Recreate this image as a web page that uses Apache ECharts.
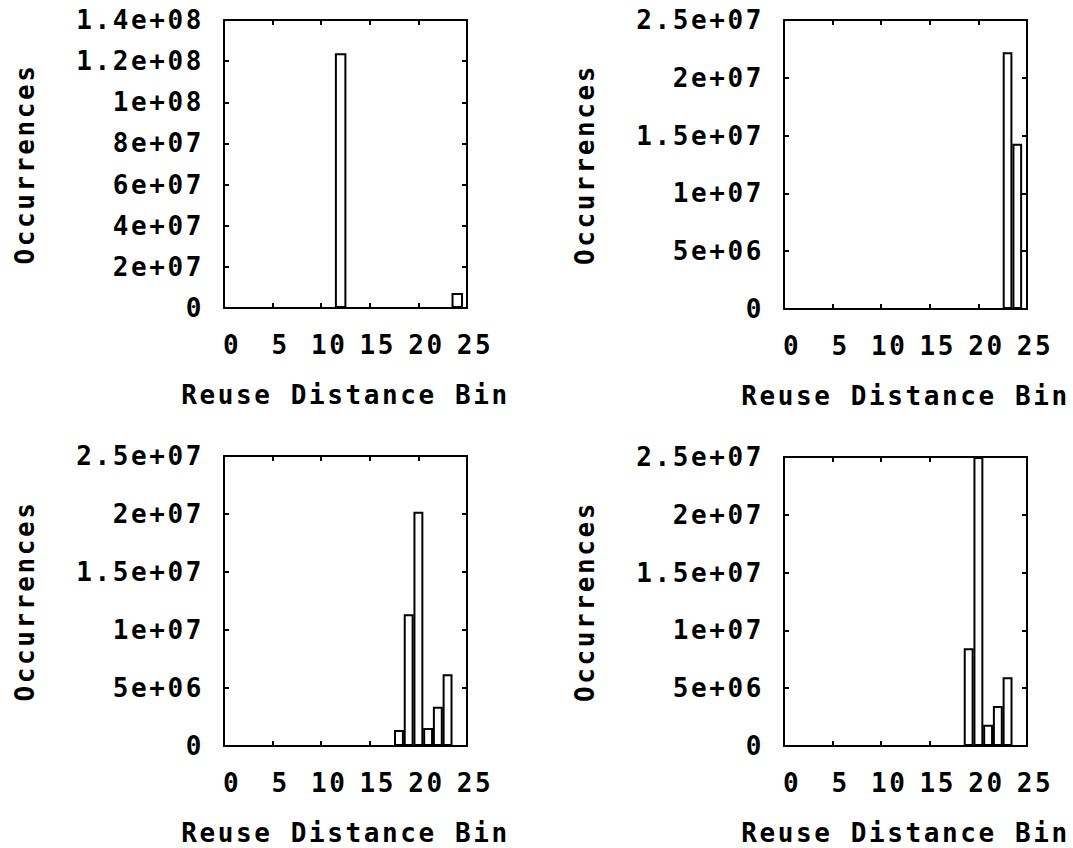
<!DOCTYPE html>
<html>
<head>
<meta charset="utf-8">
<script src="https://cdn.jsdelivr.net/npm/echarts@6/dist/echarts.min.js"></script>
<style>
  html, body { margin: 0; padding: 0; background: #fff; }
  #chart { width: 1073px; height: 848px; }
  #chart svg text { letter-spacing: 2.6px; }
</style>
</head>
<body>
<div id="chart"></div>
<script>
// ---- data ----
const xTickLabels = ['0', '5', '10', '15', '20', '25'];
const yTickLabelsBig = ['0', '2e+07', '4e+07', '6e+07', '8e+07', '1e+08', '1.2e+08', '1.4e+08'];
const yTickLabelsSmall = ['0', '5e+06', '1e+07', '1.5e+07', '2e+07', '2.5e+07'];

const binsA = [12, 24];
const valuesA = [1.238e8, 7.3e6];

const binsB = [23, 24];
const valuesB = [2.22e7, 1.43e7];

const binsC = [18, 19, 20, 21, 22, 23];
const valuesC = [1.38e6, 1.135e7, 2.02e7, 1.55e6, 3.39e6, 6.18e6];

const binsD = [19, 20, 21, 22, 23];
const valuesD = [8.45e6, 2.5e7, 1.84e6, 3.47e6, 5.95e6];

const xTitle = 'Reuse Distance Bin';
const yTitle = 'Occurrences';

// ---- layout / style ----
const FONT = "'DejaVu Sans Mono', monospace";
const FS = 26;
const panels = [
  { left: 224, top: 20, width: 243, height: 288, bins: binsA, vals: valuesA, max: 1.4e8, interval: 2e7, labels: yTickLabelsBig, barWidth: 11.5 },
  { left: 784, top: 20, width: 243, height: 289, bins: binsB, vals: valuesB, max: 2.5e7, interval: 5e6, labels: yTickLabelsSmall, barWidth: 9.7 },
  { left: 224, top: 456, width: 243, height: 290, bins: binsC, vals: valuesC, max: 2.5e7, interval: 5e6, labels: yTickLabelsSmall, barWidth: 9.9 },
  { left: 784, top: 457, width: 243, height: 289, bins: binsD, vals: valuesD, max: 2.5e7, interval: 5e6, labels: yTickLabelsSmall, barWidth: 9.9 }
];

const grid = [], xAxis = [], yAxis = [], series = [];
const lineStyle = { color: '#000', width: 2 };
const tickStyle = { show: true, inside: true, length: 5, lineStyle: { color: '#000', width: 2 } };

panels.forEach((p, i) => {
  grid.push({ left: p.left, top: p.top, width: p.width, height: p.height, containLabel: false });
  // bottom x axis
  xAxis.push({
    type: 'value', gridIndex: i, position: 'bottom', min: 0, max: 25, interval: 5,
    axisLine: { show: true, onZero: false, lineStyle },
    axisTick: tickStyle,
    splitLine: { show: false },
    axisLabel: {
      show: true, margin: 24, color: '#000', fontFamily: FONT, fontWeight: 'bold', fontSize: FS,
      padding: [0, 0, 0, 16],
      showMinLabel: true, showMaxLabel: true,
      formatter: v => xTickLabels[Math.round(v / 5)]
    },
    name: xTitle, nameLocation: 'middle', nameGap: 74,
    nameTextStyle: { color: '#000', fontFamily: FONT, fontWeight: 'bold', fontSize: FS }
  });
  // top x axis (mirror ticks)
  xAxis.push({
    type: 'value', gridIndex: i, position: 'top', min: 0, max: 25, interval: 5,
    axisLine: { show: true, onZero: false, lineStyle },
    axisTick: tickStyle, axisLabel: { show: false }, splitLine: { show: false }
  });
  // left y axis
  yAxis.push({
    type: 'value', gridIndex: i, position: 'left', min: 0, max: p.max, interval: p.interval,
    axisLine: { show: true, onZero: false, lineStyle },
    axisTick: tickStyle,
    splitLine: { show: false },
    axisLabel: {
      show: true, margin: 20, color: '#000', fontFamily: FONT, fontWeight: 'bold', fontSize: FS,
      showMinLabel: true, showMaxLabel: true,
      formatter: (labels => v => labels[Math.round(v / p.interval)])(p.labels)
    },
    name: yTitle, nameLocation: 'middle', nameGap: 186,
    nameTextStyle: { color: '#000', fontFamily: FONT, fontWeight: 'bold', fontSize: FS }
  });
  // right y axis (mirror ticks)
  yAxis.push({
    type: 'value', gridIndex: i, position: 'right', min: 0, max: p.max, interval: p.interval,
    axisLine: { show: true, onZero: false, lineStyle },
    axisTick: tickStyle, axisLabel: { show: false }, splitLine: { show: false }
  });
  series.push({
    type: 'bar',
    xAxisIndex: i * 2, yAxisIndex: i * 2,
    barWidth: p.barWidth,
    data: p.bins.map((b, k) => [b, p.vals[k]]),
    itemStyle: { color: '#fff', borderColor: '#000', borderWidth: 2 },
    emphasis: { disabled: true },
    silent: true
  });
});

const chart = echarts.init(document.getElementById('chart'), null, { renderer: 'svg', width: 1073, height: 848 });
chart.setOption({
  animation: false,
  backgroundColor: '#fff',
  grid, xAxis, yAxis, series
});
</script>
</body>
</html>
